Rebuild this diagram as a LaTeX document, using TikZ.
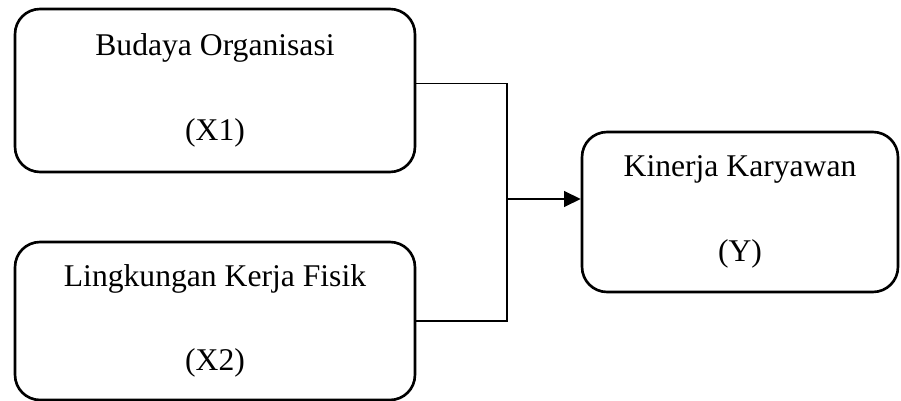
\documentclass[tikz,border=0pt]{standalone}
\usepackage{fontspec}
\setmainfont{Liberation Serif}
\usetikzlibrary{arrows.meta,positioning,calc}

\begin{document}
\begin{tikzpicture}[x=.02cm,y=-.02cm,
  varbox/.style={draw,line width=1.5pt,rounded corners=.5cm,align=center,inner sep=0pt,
    font={\fontsize{18}{48}\selectfont}},
  link/.style={line width=1pt},
  arr/.style={link,-{Triangle[length=9.5pt,width=9pt]}}]
\useasboundingbox (0,0) rectangle (901,401);
\node[varbox,minimum width=8cm,minimum height=3.26cm] (x1) at (215,90.5){Budaya Organisasi\\(X1)};
\node[varbox,minimum width=8cm,minimum height=3.16cm] (x2) at (215,321){Lingkungan Kerja Fisik\\(X2)};
\node[varbox,minimum width=6.32cm,minimum height=3.2cm] (ky) at (740,212){Kinerja Karyawan\\(Y)};
\coordinate (jn) at (507,199);
\draw[link] ([yshift=4pt]x1.east) -| (jn) |- (x2.east);
\draw[arr] (jn) -- (jn -| ky.west);
\end{tikzpicture}
\end{document}
